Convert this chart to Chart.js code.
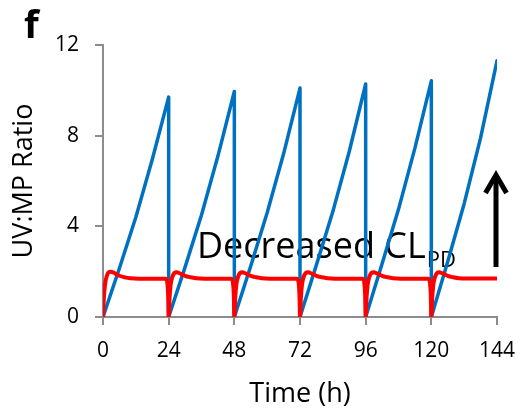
<!DOCTYPE html>
<html>
<head>
<meta charset="utf-8">
<script src="https://cdn.jsdelivr.net/npm/chart.js@4/dist/chart.umd.min.js"></script>
<style>
  html, body { margin: 0; padding: 0; background: #ffffff; }
  #wrap { width: 523px; height: 413px; }
</style>
</head>
<body>
<div id="wrap"><canvas id="c" width="523" height="413"></canvas></div>
<script>
// ---- data ----
const xTicks = [0, 24, 48, 72, 96, 120, 144];
const yTicks = [0, 4, 8, 12];

// UV:MP ratio (blue) – saw-tooth, resets to 0 at each dose
const blueTime  = [0, 6, 12, 18, 24,
                   24, 30, 36, 42, 48,
                   48, 54, 60, 66, 72,
                   72, 78, 84, 90, 96,
                   96, 102, 108, 114, 120,
                   120, 126, 132, 138, 144];
const blueValue = [0, 2.15, 4.4, 6.95, 9.7,
                   0, 2.2, 4.5, 7.1, 9.95,
                   0, 2.25, 4.6, 7.2, 10.1,
                   0, 2.3, 4.65, 7.3, 10.28,
                   0, 2.35, 4.75, 7.45, 10.42,
                   0, 2.45, 5.0, 7.9, 11.3];

// Decreased CL_PD (red)
const redTime  = [0, 0.3, 0.7, 1.3, 2, 3, 4, 5, 6, 8, 10, 13, 23,
                  23.5, 23.8, 24, 24.3, 24.7, 25.3, 26, 27, 28, 29, 30, 32, 34, 37, 47,
                  47.5, 47.8, 48, 48.3, 48.7, 49.3, 50, 51, 52, 53, 54, 56, 58, 61, 71,
                  71.5, 71.8, 72, 72.3, 72.7, 73.3, 74, 75, 76, 77, 78, 80, 82, 85, 95,
                  95.5, 95.8, 96, 96.3, 96.7, 97.3, 98, 99, 100, 101, 102, 104, 106, 109, 119,
                  119.5, 119.8, 120, 120.3, 120.7, 121.3, 122, 123, 124, 125, 126, 128, 130, 133, 144];
const redValue = [0, 0.8, 1.4, 1.78, 1.97, 2.0, 1.95, 1.88, 1.82, 1.75, 1.71, 1.69, 1.69,
                  1.5, 1.0, 0, 0.8, 1.4, 1.75, 1.93, 1.97, 1.93, 1.87, 1.81, 1.75, 1.71, 1.69, 1.69,
                  1.5, 1.0, 0, 0.8, 1.4, 1.75, 1.93, 1.97, 1.93, 1.87, 1.81, 1.75, 1.71, 1.69, 1.69,
                  1.5, 1.0, 0, 0.8, 1.4, 1.75, 1.93, 1.97, 1.93, 1.87, 1.81, 1.75, 1.71, 1.69, 1.69,
                  1.5, 1.0, 0, 0.8, 1.4, 1.75, 1.93, 1.97, 1.93, 1.87, 1.81, 1.75, 1.71, 1.69, 1.69,
                  1.5, 1.0, 0, 0.8, 1.4, 1.75, 1.93, 1.97, 1.93, 1.87, 1.81, 1.75, 1.71, 1.70, 1.70];

const xTitle = 'Time (h)';
const yTitle = 'UV:MP Ratio';
const panelLetter = 'f';
const noteMain = 'Decreased CL';
const noteSub = 'PD';

const toXY = (xs, ys) => xs.map((x, i) => ({ x: x, y: ys[i] }));

const FONT = "'Open Sans', 'DejaVu Sans', sans-serif";
const AXIS_GRAY = '#8c8c8c';

const annotations = {
  id: 'annotations',
  beforeDatasetsDraw(chart) {
    const ctx = chart.ctx;
    ctx.save();
    ctx.fillStyle = '#000000';
    ctx.textBaseline = 'alphabetic';
    ctx.textAlign = 'left';
    ctx.font = "36px " + FONT;
    ctx.fillText(noteMain, 197, 258);
    const w = ctx.measureText(noteMain).width;
    ctx.font = "22px " + FONT;
    ctx.fillText(noteSub, 197 + w + 1, 267);
    ctx.restore();
  },
  afterDraw(chart) {
    const ctx = chart.ctx;
    ctx.save();
    ctx.fillStyle = '#000000';
    ctx.font = "bold 38px " + FONT;
    ctx.textBaseline = 'alphabetic';
    ctx.textAlign = 'left';
    ctx.fillText(panelLetter, 24, 38);
    // arrow
    ctx.strokeStyle = '#000000';
    ctx.lineWidth = 5;
    ctx.lineCap = 'butt';
    ctx.lineJoin = 'miter';
    ctx.beginPath();
    ctx.moveTo(496, 267);
    ctx.lineTo(496, 176);
    ctx.stroke();
    ctx.beginPath();
    ctx.moveTo(485.5, 193);
    ctx.lineTo(496, 175);
    ctx.lineTo(506.5, 193);
    ctx.stroke();
    ctx.restore();
  }
};

new Chart(document.getElementById('c'), {
  type: 'line',
  data: {
    datasets: [
      {
        label: noteMain + noteSub,
        data: toXY(redTime, redValue),
        borderColor: '#ff0000',
        borderWidth: 4,
        pointRadius: 0,
        tension: 0,
        cubicInterpolationMode: 'monotone',
        borderJoinStyle: 'round',
        fill: false
      },
      {
        label: yTitle,
        data: toXY(blueTime, blueValue),
        borderColor: '#0070c0',
        borderWidth: 3.5,
        pointRadius: 0,
        tension: 0,
        borderJoinStyle: 'round',
        borderCapStyle: 'round',
        fill: false
      }
    ]
  },
  options: {
    responsive: false,
    devicePixelRatio: 1,
    animation: false,
    layout: { padding: { top: 45, right: 26, left: 0, bottom: 0 } },
    plugins: {
      legend: { display: false },
      tooltip: { enabled: false }
    },
    scales: {
      x: {
        type: 'linear',
        min: 0, max: 144,
        afterBuildTicks(scale) { scale.ticks = xTicks.map(v => ({ value: v })); },
        afterFit(scale) { scale.height = 96; scale.paddingRight = 0; scale.paddingLeft = 0; },
        grid: { display: true, drawOnChartArea: false, drawTicks: true, tickLength: 8, color: AXIS_GRAY, lineWidth: 2 },
        border: { display: true, color: AXIS_GRAY, width: 2 },
        ticks: { color: '#000000', font: { family: FONT, size: 21 }, padding: 13, maxRotation: 0, autoSkip: false },
        title: { display: true, text: xTitle, color: '#000000', font: { family: FONT, size: 27 }, padding: { top: 0, bottom: 2 } }
      },
      y: {
        type: 'linear',
        min: 0, max: 12,
        afterBuildTicks(scale) { scale.ticks = yTicks.map(v => ({ value: v })); },
        afterFit(scale) { scale.width = 103; scale.paddingTop = 0; scale.paddingBottom = 0; },
        grid: { display: true, drawOnChartArea: false, drawTicks: true, tickLength: 8, color: AXIS_GRAY, lineWidth: 2 },
        border: { display: true, color: AXIS_GRAY, width: 2 },
        ticks: { color: '#000000', font: { family: FONT, size: 21 }, padding: 16 },
        title: { display: true, text: yTitle, color: '#000000', font: { family: FONT, size: 27 }, padding: { top: 8, bottom: 0 } }
      }
    }
  },
  plugins: [annotations]
});
</script>
</body>
</html>
